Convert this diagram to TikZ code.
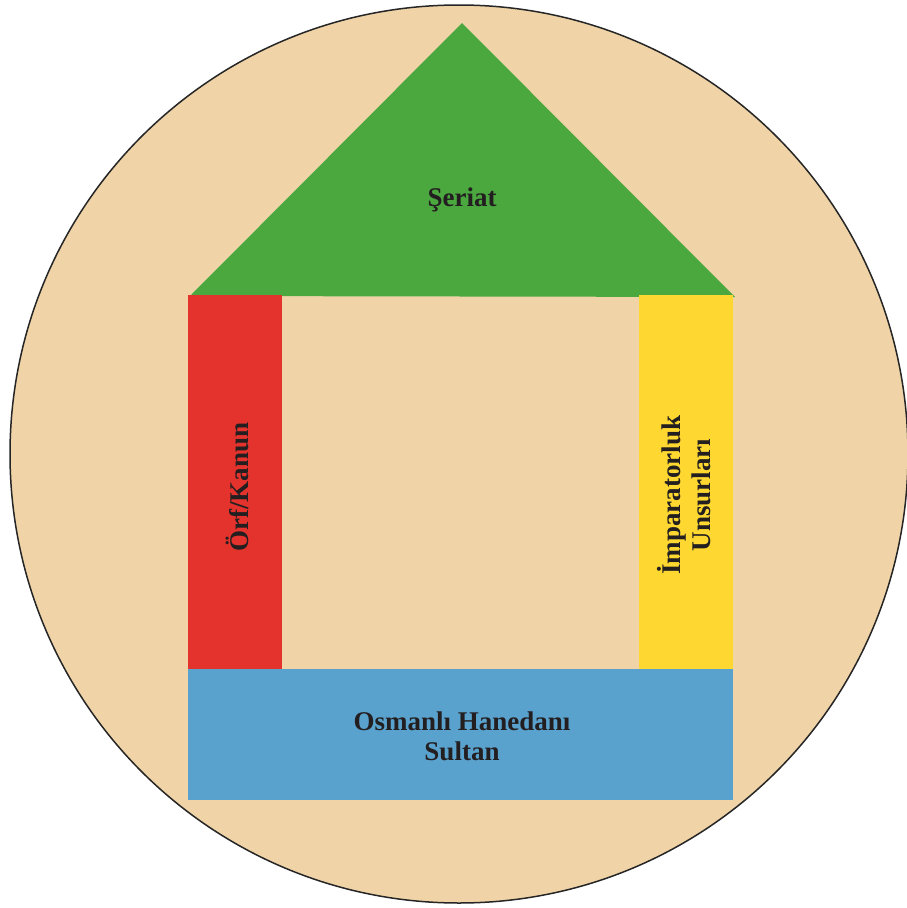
\documentclass[tikz,border=0pt]{standalone}
\usepackage{fontspec}
\setmainfont{Liberation Serif}
\definecolor{bgbeige}{RGB}{240,212,168}
\definecolor{roofgreen}{RGB}{74,168,63}
\definecolor{wallred}{RGB}{228,51,45}
\definecolor{wallyellow}{RGB}{254,215,48}
\definecolor{baseblue}{RGB}{90,162,206}
\definecolor{txt}{RGB}{35,31,32}
\begin{document}
\begin{tikzpicture}[x=1pt,y=-1pt,
  lbl/.style={text=txt,font=\fontsize{27}{30}\selectfont\bfseries,align=center,inner sep=0pt}]
\useasboundingbox (0,0) rectangle (907,908);
\clip (0,0) rectangle (907,908);
\fill[white] (0,0) rectangle (907,908);
\draw[fill=bgbeige,line width=1.5pt,draw=black!85] (459,454) circle[radius=449];
\fill[roofgreen] (190,296) -- (462,23) -- (735,297) -- cycle;
\fill[wallred] (188,295) rectangle (282,669);
\fill[wallyellow] (639,295) rectangle (733,669);
\fill[baseblue] (188,669) rectangle (733,800);
\node[lbl] (seriat) at (462,200) {Şeriat};
\node[lbl,rotate=90] (orf) at (237,487) {Örf/Kanun};
\node[lbl,rotate=90] (imp) at (684,495) {İmparatorluk\\Unsurları};
\node[lbl] (osm) at (462,736) {Osmanlı Hanedanı\\Sultan};
\end{tikzpicture}
\end{document}
